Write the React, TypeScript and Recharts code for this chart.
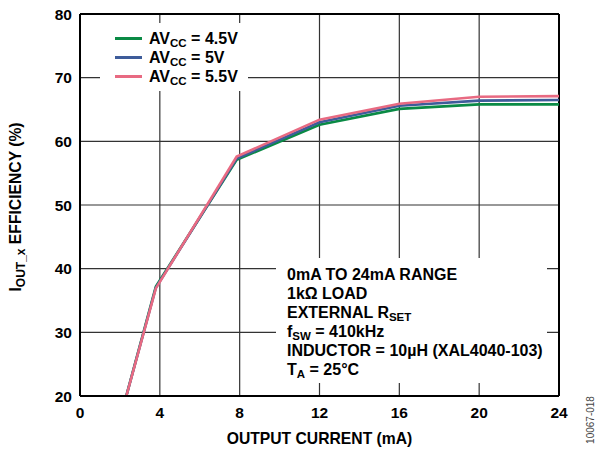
import { LineChart, Line, XAxis, YAxis, CartesianGrid, ReferenceLine, Legend } from 'recharts';

// output current (mA) at which each efficiency reading was taken
const current = [2, 3.8, 7.85, 12, 16, 20, 24];
const eff45 = [16.3, 37.2, 57.1, 62.6, 65.1, 65.8, 65.8];
const eff50 = [16.3, 37.0, 57.3, 63.0, 65.6, 66.4, 66.5];
const eff55 = [16.3, 36.9, 57.6, 63.4, 65.9, 67.0, 67.1];

const xTicks = [0, 4, 8, 12, 16, 20, 24];
const yTicks = [20, 30, 40, 50, 60, 70, 80];

const series = [
  { key: 'eff45', name: 'AV', sub: 'CC', rest: ' = 4.5V', color: '#0a8a45' },
  { key: 'eff50', name: 'AV', sub: 'CC', rest: ' = 5V', color: '#3e5c9a' },
  { key: 'eff55', name: 'AV', sub: 'CC', rest: ' = 5.5V', color: '#e86a82' },
];

// [text, subscript, text after]
const notes: string[][] = [
  ['0mA TO 24mA RANGE'],
  ['1kΩ LOAD'],
  ['EXTERNAL R', 'SET'],
  ['f', 'SW', ' = 410kHz'],
  ['INDUCTOR = 10µH (XAL4040-103)'],
  ['T', 'A', ' = 25°C'],
];

const data = current.map((x, i) => ({ x, eff45: eff45[i], eff50: eff50[i], eff55: eff55[i] }));

const FONT = '"Liberation Sans", Arial, sans-serif';
const tickStyle = { fill: '#000', fontWeight: 700, fontSize: 15.5, fontFamily: FONT };
const labelStyle = { fontFamily: FONT, fontWeight: 700, fontSize: 15.7, fill: '#000' };

const Sub = ({ children }: { children: string }) => (
  <span style={{ fontSize: 11.5, position: 'relative', top: 3, lineHeight: '12px' }}>{children}</span>
);

const LegendBox = () => (
  <div style={{ paddingTop: 6, fontFamily: FONT, fontWeight: 700, fontSize: 16, color: '#000' }}>
    {series.map((s) => (
      <div key={s.key} style={{ display: 'flex', alignItems: 'center', height: 19 }}>
        <div style={{ marginLeft: 15, width: 27, height: 3, background: s.color }} />
        <div style={{ marginLeft: 7, lineHeight: '19px', whiteSpace: 'nowrap' }}>
          {s.name}
          <Sub>{s.sub}</Sub>
          {s.rest}
        </div>
      </div>
    ))}
  </div>
);

const YLabel = (props: any) => {
  const vb = props.viewBox || { x: 0, y: 14, width: 80, height: 382 };
  const cx = 21;
  const cy = vb.y + vb.height / 2 + 2;
  return (
    <text
      x={cx}
      y={cy}
      transform={`rotate(-90 ${cx} ${cy})`}
      textAnchor="middle"
      style={labelStyle}
    >
      I
      <tspan dy={4} fontSize={12}>OUT_x</tspan>
      <tspan dy={-4}> EFFICIENCY (%)</tspan>
    </text>
  );
};

export default function App() {
  return (
    <div style={{ position: 'absolute', left: 0, top: 0, width: 597, height: 449, background: '#fff' }}>
      <LineChart
        width={597}
        height={449}
        data={data}
        margin={{ top: 14, right: 38, bottom: 0, left: 0 }}
      >
        <CartesianGrid stroke="#333" strokeWidth={1.2} />
        <XAxis
          type="number"
          dataKey="x"
          domain={[0, 24]}
          ticks={xTicks}
          allowDataOverflow
          height={53}
          tickSize={0}
          tickMargin={11}
          tickLine={false}
          axisLine={{ stroke: '#000', strokeWidth: 2 }}
          tick={tickStyle}
          label={{
            value: 'OUTPUT CURRENT (mA)',
            position: 'insideBottom',
            offset: 5,
            style: labelStyle,
          }}
        />
        <YAxis
          type="number"
          domain={[20, 80]}
          ticks={yTicks}
          allowDataOverflow
          width={80}
          tickSize={0}
          tickMargin={8}
          tickLine={false}
          axisLine={{ stroke: '#000', strokeWidth: 2 }}
          tick={tickStyle}
          label={{ content: <YLabel /> }}
        />
        <ReferenceLine x={24} stroke="#000" strokeWidth={2} />
        <ReferenceLine y={80} stroke="#000" strokeWidth={2} />
        <Legend
          layout="vertical"
          align="center"
          verticalAlign="middle"
          content={<LegendBox />}
          wrapperStyle={{ left: 100, top: 23, width: 148, height: 68, background: '#fff' }}
        />
        {series.map((s) => (
          <Line
            key={s.key}
            type="linear"
            dataKey={s.key}
            name={s.name}
            stroke={s.color}
            strokeWidth={2.6}
            dot={false}
            isAnimationActive={false}
          />
        ))}
      </LineChart>
      <div
        style={{
          position: 'absolute',
          left: 276,
          top: 258,
          width: 271,
          height: 125,
          background: '#fff',
          boxSizing: 'border-box',
          paddingTop: 7,
          paddingLeft: 11,
          fontFamily: FONT,
          fontWeight: 700,
          fontSize: 16,
          color: '#000',
        }}
      >
        {notes.map((n, i) => (
          <div key={i} style={{ height: 19, lineHeight: '19px', whiteSpace: 'nowrap' }}>
            {n[0]}
            {n[1] && <Sub>{n[1]}</Sub>}
            {n[2]}
          </div>
        ))}
      </div>
      <div
        style={{
          position: 'absolute',
          left: 590,
          top: 420,
          transform: 'translate(-50%, -50%) rotate(-90deg)',
          fontFamily: FONT,
          fontSize: 10,
          color: '#444',
          whiteSpace: 'nowrap',
        }}
      >
        10067-018
      </div>
    </div>
  );
}
